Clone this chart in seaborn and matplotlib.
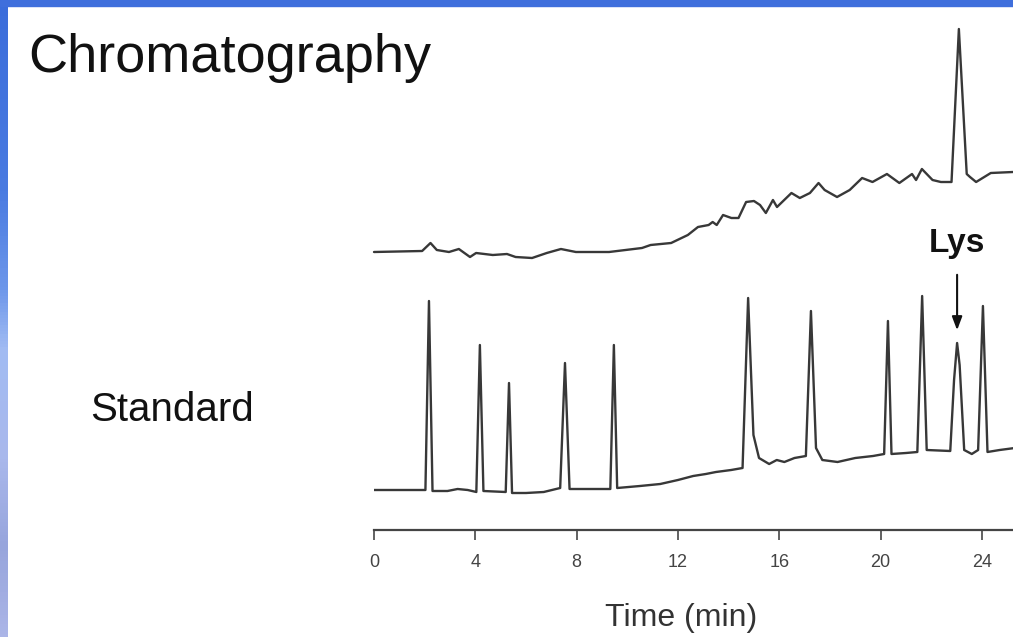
import numpy as np
import pandas as pd
import matplotlib
matplotlib.use('Agg')
import matplotlib.pyplot as plt
from matplotlib.colors import LinearSegmentedColormap
from matplotlib.patches import Rectangle
import seaborn as sns

# upper trace (sample), signal in arbitrary units
sample_time = [0.0, 1.9, 2.23, 2.48, 2.96, 3.35, 3.79, 4.03, 4.69, 5.25, 5.59, 6.24, 6.82,
               7.38, 7.97, 9.28, 10.58, 10.92, 11.73, 12.39, 12.79, 13.21, 13.37, 13.53,
               13.78, 14.11, 14.39, 14.69, 15.0, 15.24, 15.47, 15.75, 15.91, 16.48, 16.81,
               17.21, 17.55, 17.79, 18.28, 18.78, 19.27, 19.68, 20.25, 20.74, 21.24, 21.4,
               21.63, 22.05, 22.38, 22.8, 23.09, 23.4, 23.53, 23.77, 24.35, 25.23]
sample_signal = [278, 279, 287, 280, 278, 281, 273, 277, 275, 276, 273, 272, 277,
                 281, 278, 278, 282, 285, 287, 295, 303, 305, 308, 305,
                 315, 312, 312, 328, 329, 325, 317, 330, 323, 337, 332,
                 337, 347, 340, 333, 340, 352, 348, 356, 347, 356, 350,
                 361, 350, 348, 348, 501, 356, 353, 348, 357, 358]

# lower trace (standard)
std_time = [0.0, 2.03, 2.17, 2.31, 2.9, 3.3, 3.7, 4.04, 4.18, 4.32, 5.2, 5.33, 5.45,
            6.0, 6.7, 7.35, 7.54, 7.72, 9.33, 9.47, 9.6, 10.5, 11.3, 12.0, 12.6, 13.1,
            13.5, 14.1, 14.55, 14.77, 14.98, 15.2, 15.6, 15.9, 16.2, 16.6, 17.05, 17.25,
            17.45, 17.7, 18.3, 19.0, 19.7, 20.14, 20.29, 20.43, 21.0, 21.45, 21.64, 21.82,
            22.75, 22.9, 23.02, 23.12, 23.3, 23.6, 23.85, 24.04, 24.22, 24.7, 25.3]
std_signal = [40, 40, 229, 39, 39, 41, 40, 38, 185, 39, 38, 147, 37,
              37, 38, 42, 167, 41, 41, 185, 42, 44, 46, 50, 54, 56,
              58, 60, 62, 232, 95, 72, 66, 70, 68, 72, 74, 219,
              82, 70, 68, 72, 74, 76, 209, 76, 77, 78, 234, 80,
              79, 150, 187, 165, 80, 76, 80, 224, 78, 80, 82]

ticks = [0, 4, 8, 12, 16, 20, 24]
lys_time = 23.02

sns.set_style('white')
plt.rcParams['font.family'] = ['Liberation Sans', 'DejaVu Sans']

W, H = 1013, 637
fig = plt.figure(figsize=(W / 100, H / 100), dpi=100)

# slide frame: blue strip on top and a gradient strip on the left
cmap = LinearSegmentedColormap.from_list('side', [
    (0.0, '#3b6ddb'), (0.3, '#4a7be1'), (0.45, '#6c96ea'), (0.55, '#a2bcf3'),
    (0.72, '#a9b8ec'), (0.86, '#97a5dc'), (1.0, '#abb5e7')])
side = fig.add_axes([0, 0, 8 / W, 1])
side.imshow(np.linspace(0, 1, 200).reshape(-1, 1), aspect='auto', cmap=cmap)
side.axis('off')
fig.patches.append(Rectangle((0, 1 - 6 / H), 1, 6 / H, transform=fig.transFigure,
                             color='#3f6fdc', zorder=5))

ax = fig.add_axes([374 / W, (H - 530) / H, (W - 374) / W, 530 / H])
df_s = pd.DataFrame({'time': sample_time, 'signal': sample_signal})
df_t = pd.DataFrame({'time': std_time, 'signal': std_signal})
sns.lineplot(data=df_s, x='time', y='signal', ax=ax, color='#383838', lw=1.7,
             estimator=None, sort=False, clip_on=False)
sns.lineplot(data=df_t, x='time', y='signal', ax=ax, color='#383838', lw=1.7,
             estimator=None, sort=False)

ax.set_xlim(0, (W - 374) / 25.33)
ax.set_ylim(0, 530)
for s in ['left', 'right', 'top']:
    ax.spines[s].set_visible(False)
ax.spines['bottom'].set_color('#444444')
ax.spines['bottom'].set_linewidth(1.6)
ax.set_yticks([])
ax.set_xticks(ticks)
ax.set_xticklabels([str(t) for t in ticks])
ax.tick_params(axis='x', direction='out', length=7, width=1.3, color='#555555',
               labelsize=13, labelcolor='#444444', pad=10, bottom=True)
ax.set_ylabel('')
ax.set_xlabel('Time (min)', fontsize=23, color='#333333')
ax.xaxis.set_label_coords((681 - 374) / (W - 374), -(603 - 530) / 530)

ax.text(lys_time, 278, 'Lys', ha='center', va='baseline', fontsize=24,
        fontweight='bold', color='#111111')
ax.annotate('', xy=(lys_time, 197), xytext=(lys_time, 258),
            arrowprops=dict(arrowstyle='-|>,head_length=0.8,head_width=0.3',
                            color='#111111', lw=1.5))

fig.text(28 / W, 1 - 72 / H, 'Chromatography', fontsize=39, color='#111111',
         ha='left', va='baseline')
fig.text(90 / W, 1 - 421 / H, 'Standard', fontsize=29, color='#111111',
         ha='left', va='baseline')

fig.savefig('out.png', dpi=100, facecolor='white')
